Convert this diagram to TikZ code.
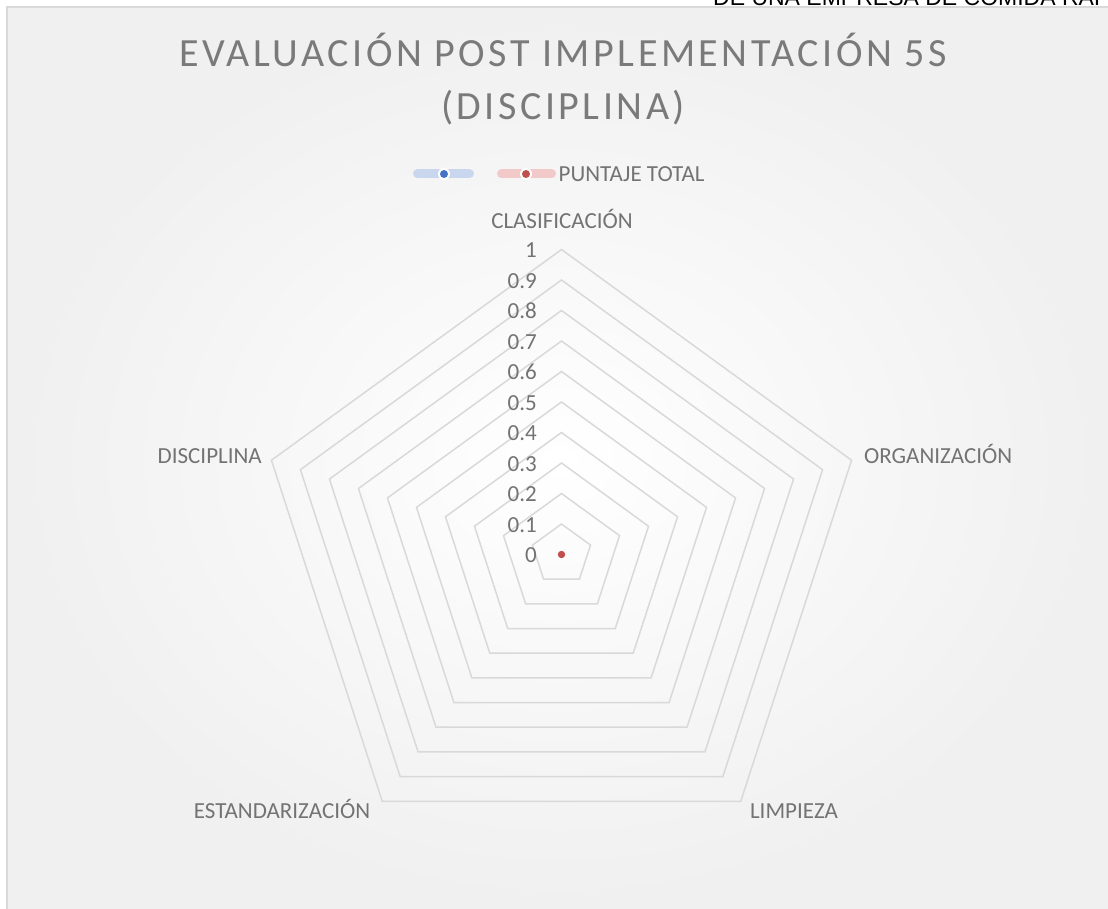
\documentclass[tikz,border=0pt]{standalone}
\usepackage{fontspec}
\setmainfont{Carlito}
\newfontfamily\titlefont[LetterSpace=8.8]{Carlito}
\newfontfamily\arialfont{Liberation Sans}
\definecolor{gridgray}{HTML}{D9D9D9}
\definecolor{framegray}{HTML}{D9D9D9}
\definecolor{labgray}{HTML}{737373}
\definecolor{titlegray}{HTML}{7A7A7A}
\definecolor{barblue}{HTML}{C9D7EE}
\definecolor{dotblue}{HTML}{4472C4}
\definecolor{barred}{HTML}{F0C9C8}
\definecolor{dotred}{HTML}{C0504D}
\tikzset{
  gridline/.style={draw=gridgray, line width=1.5pt, line join=miter},
  lab/.style={inner sep=0pt, text=labgray, font=\fontsize{23}{28}\selectfont},
  ttl/.style={inner sep=0pt, text=titlegray, font=\titlefont\fontsize{40}{52}\selectfont},
  legbar/.style={line width=9pt, line cap=round},
}
\begin{document}
\begin{tikzpicture}[x=1pt,y=-1pt]
\useasboundingbox (0,0) rectangle (1108,909);
\clip (0,0) rectangle (1108,909);
\fill[white] (0,0) rectangle (1108,909);
\shade[inner color=white, outer color=black!6] (7,7) rectangle (1112,913);
\draw[framegray, line width=2pt] (7,913) -- (7,7) -- (1112,7);
% cut-off text at top
\node[anchor=base west, inner sep=0pt, text=black, font=\arialfont\fontsize{23}{27}\selectfont] (toptext) at (713,5.5) {DE UNA EMPRESA DE COMIDA RAP};
% title
\node[ttl, anchor=base] (title1) at (563,66.7) {EVALUACIÓN POST IMPLEMENTACIÓN 5S};
\node[ttl, anchor=base] (title2) at (563,119.3) {(DISCIPLINA)};
% legend
\coordinate (b1a) at (417.5,174);
\coordinate (b1b) at (469.5,174);
\coordinate (d1) at (444,174);
\draw[legbar, barblue] (b1a) -- (b1b);
\fill[white] (d1) circle (6);
\fill[dotblue] (d1) circle (4);
\coordinate (b2a) at (501.5,174);
\coordinate (b2b) at (551.5,174);
\coordinate (d2) at (526,174);
\draw[legbar, barred] (b2a) -- (b2b);
\fill[white] (d2) circle (6);
\fill[dotred] (d2) circle (4);
\node[lab, anchor=base west] (legtext) at (558.5,181.7) {PUNTAJE TOTAL};
% radar grid
\coordinate (c) at (561.5,554.5);
\foreach \i in {1,...,10}{
  \pgfmathsetmacro{\r}{30.5*\i}
  \draw[gridline, shift={(c)}] (-90:\r) -- (-18:\r) -- (54:\r) -- (126:\r) -- (198:\r) -- cycle;
}
% axis values
\foreach \v/\t in {0/0,1/0.1,2/0.2,3/0.3,4/0.4,5/0.5,6/0.6,7/0.7,8/0.8,9/0.9,10/1}{
  \node[lab, anchor=base east] (val\v) at (537,{554.5-30.5*\v+8}) {\t};
}
% category labels
\node[lab, anchor=base] (clas) at (562,229) {CLASIFICACIÓN};
\node[lab, anchor=base west] (org) at (864,463) {ORGANIZACIÓN};
\node[lab, anchor=base east] (disc) at (262,463) {DISCIPLINA};
\node[lab, anchor=base] (limp) at (794,818) {LIMPIEZA};
\node[lab, anchor=base] (est) at (282,818) {ESTANDARIZACIÓN};
% data point
\fill[dotred] (c) circle (3.7);
\end{tikzpicture}
\end{document}
